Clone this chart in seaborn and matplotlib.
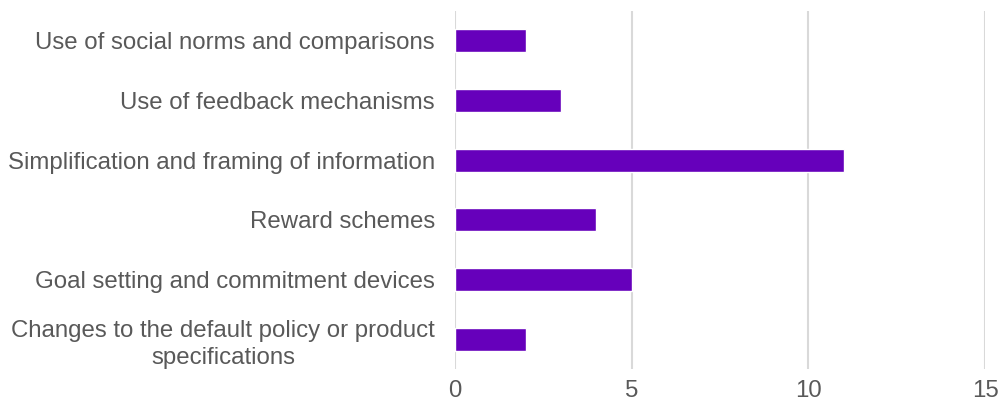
import pandas as pd
import matplotlib
matplotlib.use("Agg")
import matplotlib.pyplot as plt
import seaborn as sns

categories = [
    "Use of social norms and comparisons",
    "Use of feedback mechanisms",
    "Simplification and framing of information",
    "Reward schemes",
    "Goal setting and commitment devices",
    "Changes to the default policy or product\nspecifications",
]
counts = [2, 3, 11, 4, 5, 2]
x_ticks = [0, 5, 10, 15]

sns.set_theme(style="white")
plt.rcParams['font.family'] = ['Liberation Sans', 'DejaVu Sans']

df = pd.DataFrame({"category": categories, "count": counts})

fig = plt.figure(figsize=(10, 4.05), dpi=100)
ax = fig.add_axes([0.455, 0.089, 0.53, 0.884])

sns.barplot(data=df, x="count", y="category", color="#6600BB", saturation=1,
            width=0.385, ax=ax, zorder=3)

ax.set_xlim(0, 15)
ax.set_xticks(x_ticks)
ax.xaxis.grid(True, color="#d9d9d9", linewidth=1.5, zorder=0)
ax.set_axisbelow(True)
for s in ax.spines.values():
    s.set_visible(False)
ax.set_xlabel("")
ax.set_ylabel("")
ax.tick_params(axis="x", length=0, pad=8, labelsize=17.3, labelcolor="#595959")
ax.tick_params(axis="y", length=0, pad=14.5, labelsize=17.3, labelcolor="#595959")
for lbl in ax.get_yticklabels():
    lbl.set_multialignment("center")
    lbl.set_linespacing(1.3)

fig.savefig("out.png", dpi=100)
